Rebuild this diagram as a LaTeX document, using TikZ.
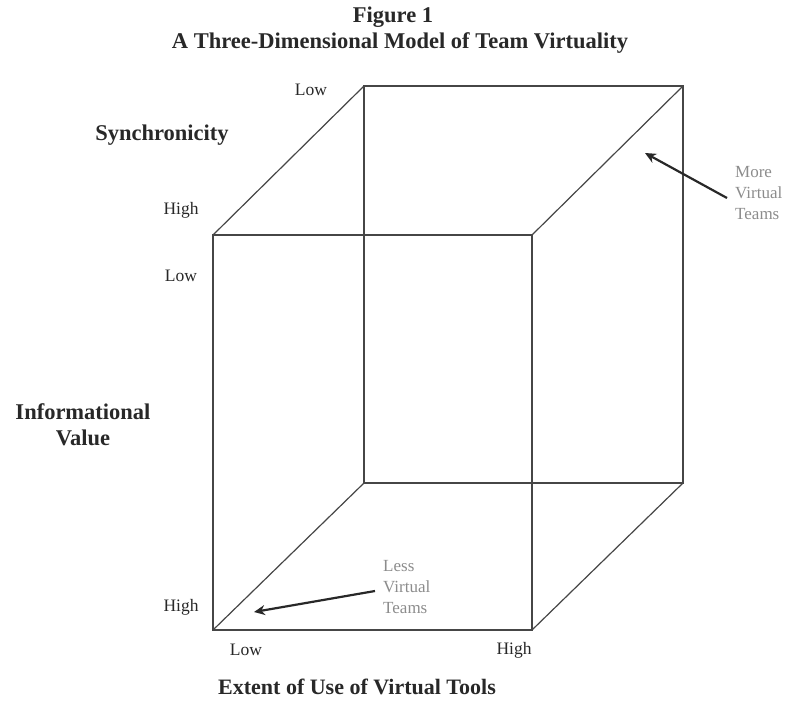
\documentclass[tikz,border=0pt]{standalone}
\usepackage{fontspec}
\setmainfont{Liberation Serif}
\usetikzlibrary{arrows.meta}
\definecolor{edge}{RGB}{70,70,70}
\definecolor{note}{RGB}{140,140,140}
\definecolor{ink}{RGB}{40,40,40}
\begin{document}
\begin{tikzpicture}[x=1pt,y=-1pt,
  cube/.style={draw=edge,line width=1.2pt},
  small/.style={font=\fontsize{17.5}{20}\selectfont,text=ink,inner sep=0pt},
  axis/.style={font=\bfseries\fontsize{22.5}{26}\selectfont,text=ink,inner sep=0pt,align=center},
  notelab/.style={font=\fontsize{17}{21}\selectfont,text=note,inner sep=0pt,align=left,anchor=west},
  pointer/.style={draw=ink,line width=2.2pt,-{Stealth[length=11pt,width=10pt]}}]
\useasboundingbox (0,0) rectangle (785,702);
% title
\node[axis] (t1) at (393,17) {Figure 1};
\node[axis] (t2) at (400,43) {A Three-Dimensional Model of Team Virtuality};
% cube vertices
\coordinate (f1) at (213,235);
\coordinate (f2) at (532,235);
\coordinate (f3) at (532,630);
\coordinate (f4) at (213,630);
\coordinate (b1) at (364,86);
\coordinate (b2) at (683,86);
\coordinate (b3) at (683,483);
\coordinate (b4) at (364,483);
\draw[cube] (f1) -- (f2) -- (f3) -- (f4) -- cycle;
\draw[cube] (b1) -- (b2) -- (b3) -- (b4) -- cycle;
\draw[cube] (f1) -- (b1);
\draw[cube] (f2) -- (b2);
\draw[cube] (f3) -- (b3);
\draw[cube] (f4) -- (b4);
% labels
\node[small] (l1) at (311,90) {Low};
\node[axis] (syn) at (162,135) {Synchronicity};
\node[small] (h1) at (181,210) {High};
\node[small] (l2) at (181,276) {Low};
\node[axis] (inf) at (83,425) {Informational\\Value};
\node[small] (h2) at (181,607) {High};
\node[small] (l3) at (246,650) {Low};
\node[small] (h3) at (514,650) {High};
\node[axis,font=\bfseries\fontsize{22}{26}\selectfont] (ext) at (357,687) {Extent of Use of Virtual Tools};
% notes
\node[notelab] (more) at (735,193) {More\\Virtual\\Teams};
\node[notelab] (less) at (383,587) {Less\\Virtual\\Teams};
\coordinate (ms) at (727,198);
\coordinate (me) at (645,153);
\coordinate (ls) at (375,591);
\coordinate (le) at (254,612);
\draw[pointer] (ms) -- (me);
\draw[pointer] (ls) -- (le);
\end{tikzpicture}
\end{document}
